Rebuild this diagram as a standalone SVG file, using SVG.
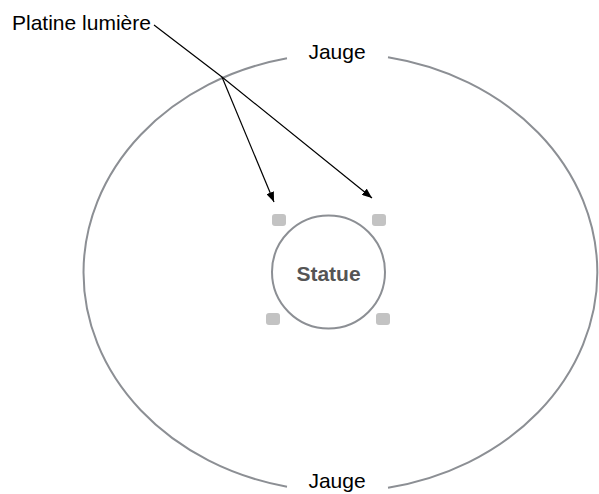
<svg xmlns="http://www.w3.org/2000/svg" width="599" height="494" viewBox="0 0 599 494">
<style>
.zone{fill:none;stroke:#8c8f94;stroke-width:2}
.lbl{font-family:"Liberation Sans",Arial,sans-serif;font-size:21px;fill:#000}
.title{font-family:"Liberation Sans",Arial,sans-serif;font-size:21px;font-weight:bold;fill:#555;text-anchor:middle}
.lamp{fill:#c3c3c3}
.conn{fill:none;stroke:#000;stroke-width:1.2}
</style>
<defs>
<marker id="arr" viewBox="0 0 10 8" refX="10" refY="4" markerWidth="10" markerHeight="8" markerUnits="userSpaceOnUse" orient="auto">
<path d="M0,0 L10,4 L0,8 Z" fill="#000"/>
</marker>
</defs>
<rect width="599" height="494" fill="#fff"/>
<g id="jauge">
<path class="zone" d="M388,57.3 A257,219 0 0 1 388,487.7"/>
<path class="zone" d="M287,486.7 A257,219 0 0 1 287,58.3"/>
<text class="lbl" x="337" y="58.5" text-anchor="middle">Jauge</text>
<text class="lbl" x="337" y="487.5" text-anchor="middle">Jauge</text>
</g>
<g id="statue">
<circle class="zone" cx="328.5" cy="272" r="56.5"/>
<text class="title" x="328.5" y="281">Statue</text>
</g>
<g id="lampes">
<rect class="lamp" x="272" y="214" width="14" height="12" rx="3"/>
<rect class="lamp" x="372" y="214" width="14" height="12" rx="3"/>
<rect class="lamp" x="266" y="313" width="14" height="12" rx="3"/>
<rect class="lamp" x="376" y="313" width="14" height="12" rx="3"/>
</g>
<g id="platine">
<text class="lbl" x="12" y="29.5">Platine lumière</text>
</g>
<g id="connectors">
<path class="conn" d="M154,25 L222,77 L372,198" marker-end="url(#arr)"/>
<path class="conn" d="M222,77 L274,202" marker-end="url(#arr)"/>
</g>
</svg>
